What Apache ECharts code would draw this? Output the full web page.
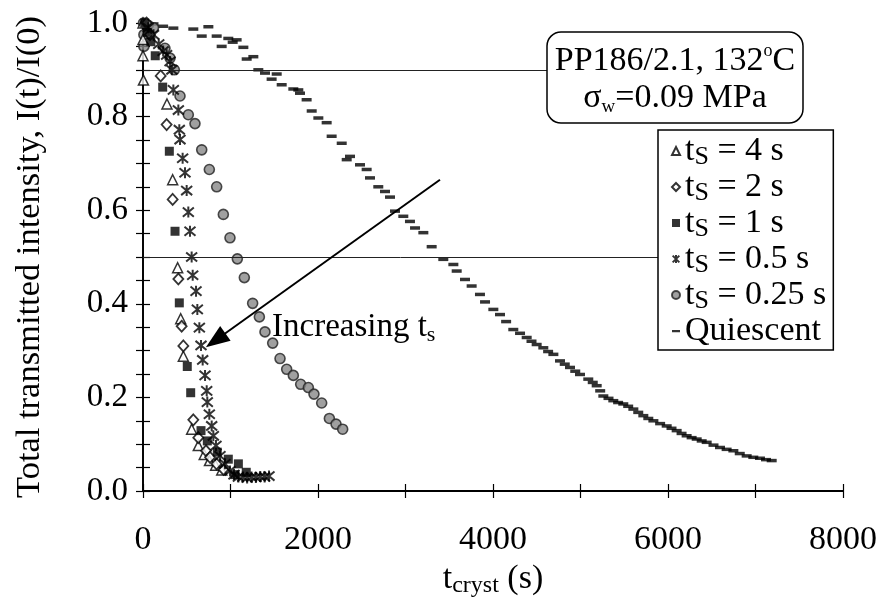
<!DOCTYPE html>
<html><head><meta charset="utf-8">
<script src="https://cdn.jsdelivr.net/npm/echarts@6/dist/echarts.min.js"></script>
<style>html,body{margin:0;padding:0;background:#fff}#c{width:880px;height:603px}</style>
</head><body><div id="c"></div>
<script>
const FONT = '"Liberation Serif","Times New Roman",Times,serif';

// ---- axis ticks ----
const xMin = 0, xMax = 8000, xStep = 2000;
const yMin = 0, yMax = 1, yStep = 0.2;

// ---- series data: [t_cryst (s), I(t)/I(0)] ----
const ts4 = [[0,1.0],[0,0.965],[0,0.93],[5,0.878],[274,0.827],[339,0.665],[396,0.477],[431,0.368],[461,0.288],[556,0.132],[632,0.097],[700,0.078],[760,0.065],[830,0.055],[900,0.045]];
const ts2 = [[40,1.0],[80,0.975],[202,0.887],[270,0.783],[339,0.623],[404,0.453],[442,0.352],[461,0.31],[575,0.152],[632,0.114],[720,0.086],[766,0.072],[840,0.058],[920,0.046]];
const ts1 = [[20,1.0],[50,0.98],[90,0.96],[140,0.93],[225,0.863],[301,0.726],[366,0.555],[415,0.402],[506,0.266],[545,0.21],[663,0.129],[735,0.107],[849,0.083],[975,0.068],[1090,0.058],[1050,0.035],[1180,0.04]];
const ts05 = [[60,0.99],[120,0.975],[180,0.955],[230,0.94],[270,0.932],[309,0.918],[330,0.9],[347,0.857],[404,0.814],[415,0.772],[423,0.751],[453,0.711],[480,0.68],[499,0.642],[518,0.596],[537,0.555],[556,0.5],[568,0.461],[606,0.427],[621,0.388],[644,0.349],[663,0.311],[682,0.28],[709,0.247],[728,0.214],[735,0.19],[758,0.164],[785,0.139],[804,0.118],[834,0.097],[880,0.075],[937,0.058],[994,0.043],[1040,0.035],[1090,0.03],[1140,0.03],[1190,0.028],[1240,0.03],[1290,0.029],[1340,0.031],[1390,0.03],[1440,0.032]];
const ts025 = [[5,1.0],[10,0.975],[10,0.95],[60,0.995],[120,0.99],[251,0.946],[309,0.925],[358,0.9],[423,0.844],[518,0.804],[594,0.785],[671,0.729],[758,0.687],[842,0.65],[918,0.591],[994,0.541],[1078,0.496],[1158,0.456],[1253,0.401],[1330,0.372],[1394,0.34],[1482,0.316],[1566,0.283],[1642,0.26],[1718,0.247],[1802,0.228],[1890,0.221],[1954,0.207],[2042,0.188],[2130,0.155],[2206,0.143],[2282,0.132]];
const quiescent = [[20,1.0],[120,0.998],[230,0.993],[347,0.989],[575,0.987],[747,0.992],[671,0.972],[842,0.972],[899,0.95],[975,0.967],[1025,0.959],[1070,0.964],[1147,0.948],[1185,0.923],[1261,0.928],[1318,0.9],[1394,0.893],[1470,0.88],[1528,0.891],[1585,0.868],[1718,0.859],[1775,0.857],[1794,0.85],[1870,0.836],[1928,0.812],[2004,0.797],[2099,0.787],[2156,0.758],[2271,0.743],[2328,0.708],[2366,0.715],[2480,0.697],[2556,0.687],[2594,0.669],[2689,0.65],[2766,0.64],[2823,0.628],[2880,0.598],[2975,0.587],[3051,0.576],[3109,0.562],[3204,0.552],[3299,0.522],[3432,0.495],[3547,0.484],[3585,0.47],[3680,0.452],[3756,0.438],[3851,0.42],[3909,0.404],[4004,0.388],[4080,0.377],[4150,0.362],[4232,0.345],[4309,0.337],[4385,0.328],[4440,0.32],[4499,0.313],[4575,0.306],[4630,0.298],[4690,0.292],[4766,0.278],[4820,0.271],[4880,0.264],[4940,0.256],[4994,0.249],[5089,0.239],[5140,0.232],[5185,0.225],[5225,0.214],[5261,0.203],[5320,0.198],[5375,0.193],[5430,0.189],[5489,0.186],[5545,0.181],[5604,0.175],[5660,0.168],[5718,0.161],[5775,0.155],[5833,0.15],[5910,0.144],[5985,0.139],[6040,0.134],[6099,0.129],[6155,0.123],[6213,0.118],[6270,0.114],[6328,0.111],[6385,0.107],[6442,0.104],[6520,0.098],[6594,0.093],[6670,0.089],[6747,0.086],[6820,0.08],[6899,0.075],[6975,0.072],[7051,0.07],[7120,0.067],[7185,0.065]];

// ---- legend labels ----
const seriesNames = ['t4','t2','t1','t05','t025','q'];
const legendLabels = {
  t4: '{t|t}{s|S}{t| = 4 s}',
  t2: '{t|t}{s|S}{t| = 2 s}',
  t1: '{t|t}{s|S}{t| = 1 s}',
  t05: '{t|t}{s|S}{t| = 0.5 s}',
  t025: '{t|t}{s|S}{t| = 0.25 s}',
  q: '{t|Quiescent}'
};

// annotation lines (data coordinates)
const refLine09 = [[0,0.9],[4617,0.9]];
const refLine05 = [[0,0.5],[5886,0.5]];
const arrowLine = [[3394,0.665],[830,0.322]];

const starPath = 'path://M0,0L10,10M10,0L0,10M5,-1L5,11';
const dashIcon = 'path://M0,0h0.01v0.01h-0.01zM0,3h8v2.2h-8zM7.99,7.99h0.01v0.01h-0.01z';

const chart = echarts.init(document.getElementById('c'));
const axisCommon = {
  type: 'value', min: xMin, max: xMax,
  splitLine: {show: false},
  axisLine: {show: true, lineStyle: {color: '#000', width: 1.8}},
  axisTick: {show: true, inside: true, length: 7, lineStyle: {color: '#000', width: 1.2}},
  minorTick: {show: true, splitNumber: 2, length: 7, lineStyle: {color: '#000', width: 1.2}},
  minorSplitLine: {show: false}
};
chart.setOption({
  animation: false,
  backgroundColor: '#fff',
  textStyle: {fontFamily: FONT, color: '#000'},
  grid: {left: 143, top: 23, width: 700, height: 469},
  xAxis: [
    Object.assign({}, axisCommon, {
      position: 'bottom', interval: xStep,
      axisLabel: {margin: 32, fontSize: 34, fontFamily: FONT, color: '#000', formatter: v => String(v)},
      name: '{a|t}{b|cryst}{a| (s)}', nameLocation: 'middle', nameGap: 69,
      nameTextStyle: {rich: {
        a: {fontSize: 34, fontFamily: FONT, color: '#000', lineHeight: 38},
        b: {fontSize: 24, fontFamily: FONT, color: '#000', lineHeight: 20, verticalAlign: 'bottom'}
      }}
    }),
    Object.assign({}, axisCommon, {
      position: 'top', interval: 1000, axisLabel: {show: false},
      minorTick: {show: false},
      axisLine: {show: true, lineStyle: {color: '#000', width: 1.5}}
    })
  ],
  yAxis: [
    {
      type: 'value', min: yMin, max: yMax, interval: yStep, position: 'left',
      splitLine: {show: false},
      axisLine: {show: true, lineStyle: {color: '#000', width: 1.8}},
      axisTick: {show: true, inside: true, length: 7, lineStyle: {color: '#000', width: 1.2}},
      minorTick: {show: true, splitNumber: 4, length: 7, lineStyle: {color: '#000', width: 1.2}},
      axisLabel: {margin: 15, fontSize: 33, fontFamily: FONT, color: '#000', formatter: v => v.toFixed(1)},
      name: 'Total transmitted intensity, I(t)/I(0)', nameLocation: 'middle', nameRotate: 90, nameGap: 96,
      nameTextStyle: {fontSize: 34.5, fontFamily: FONT, color: '#000'}
    },
    {
      type: 'value', min: yMin, max: yMax, interval: 0.1, position: 'right',
      splitLine: {show: false},
      axisLine: {show: true, lineStyle: {color: '#000', width: 1.5}},
      axisTick: {show: true, inside: true, length: 7, lineStyle: {color: '#000', width: 1.2}},
      minorTick: {show: true, splitNumber: 2, length: 7, lineStyle: {color: '#000', width: 1.2}},
      axisLabel: {show: false}
    }
  ],
  legend: {
    orient: 'vertical', left: 658, top: 130,
    backgroundColor: '#fff', borderColor: '#000', borderWidth: 1.5, borderRadius: 0,
    padding: [4, 7, 2, 13], itemGap: 0, itemWidth: 8, itemHeight: 8, itemTextGap: 11,
    data: seriesNames.map(n => n === 'q' ? {name: n, icon: dashIcon} : {name: n}),
    formatter: n => legendLabels[n],
    textStyle: {rich: {
      t: {fontSize: 34, fontFamily: FONT, color: '#000', lineHeight: 38},
      s: {fontSize: 26, fontFamily: FONT, color: '#000', lineHeight: 20, verticalAlign: 'bottom'}
    }},
    selectedMode: false, z: 10
  },
  graphic: [
    {type: 'rect', z: 20, shape: {x: 547, y: 32, width: 256, height: 91, r: 14},
     style: {fill: '#fff', stroke: '#000', lineWidth: 1.5}},
    {type: 'text', z: 21, style: {x: 675, y: 61, text: '{a|PP186/2.1, 132}{o|o}{a|C}', align: 'center', verticalAlign: 'middle',
      rich: {a: {fontSize: 34, fontFamily: FONT, fill: '#000', color: '#000', lineHeight: 38},
             o: {fontSize: 18, fontFamily: FONT, fill: '#000', color: '#000', lineHeight: 38, verticalAlign: 'top', padding: [0, 0, 14, 0]}}}},
    {type: 'text', z: 21, style: {x: 675, y: 98, text: '{a|σ}{b|w}{a|=0.09 MPa}', align: 'center', verticalAlign: 'middle',
      rich: {a: {fontSize: 34, fontFamily: FONT, fill: '#000', color: '#000', lineHeight: 38},
             b: {fontSize: 19, fontFamily: FONT, fill: '#000', color: '#000', lineHeight: 14, verticalAlign: 'bottom'}}}},
    {type: 'text', z: 21, style: {x: 272, y: 327, text: '{a|Increasing t}{b|s}', verticalAlign: 'middle',
      rich: {a: {fontSize: 33, fontFamily: FONT, fill: '#000', color: '#000', lineHeight: 38},
             b: {fontSize: 22, fontFamily: FONT, fill: '#000', color: '#000', lineHeight: 16, verticalAlign: 'bottom'}}}}
  ],
  series: [
    {name: 'q', type: 'scatter', data: quiescent, symbol: 'rect', symbolSize: [10, 3.5],
     itemStyle: {color: '#000'},
     markLine: {silent: true, animation: false, symbol: ['none','none'],
       lineStyle: {color: '#222', width: 1, type: 'solid'}, label: {show: false},
       data: [
         [{coord: refLine09[0]}, {coord: refLine09[1]}],
         [{coord: refLine05[0]}, {coord: refLine05[1]}],
         [{coord: arrowLine[0], symbol: 'none'}, {coord: arrowLine[1], symbol: 'triangle', symbolSize: [18, 24],
           lineStyle: {color: '#000', width: 2}}]
       ]}},
    {name: 't025', type: 'scatter', data: ts025, symbol: 'circle', symbolSize: 10,
     itemStyle: {color: '#888', borderColor: '#222', borderWidth: 1.6}},
    {name: 't4', type: 'scatter', data: ts4, symbol: 'triangle', symbolSize: [10, 10],
     itemStyle: {color: '#fff', borderColor: '#000', borderWidth: 1.5}},
    {name: 't2', type: 'scatter', data: ts2, symbol: 'diamond', symbolSize: [10, 11],
     itemStyle: {color: '#fff', borderColor: '#000', borderWidth: 1.8}},
    {name: 't1', type: 'scatter', data: ts1, symbol: 'rect', symbolSize: 9,
     itemStyle: {color: '#000'}},
    {name: 't05', type: 'scatter', data: ts05, symbol: starPath, symbolSize: 11,
     itemStyle: {color: 'rgba(0,0,0,0)', borderColor: '#000', borderWidth: 2}}
  ]
});
</script>
</body></html>
